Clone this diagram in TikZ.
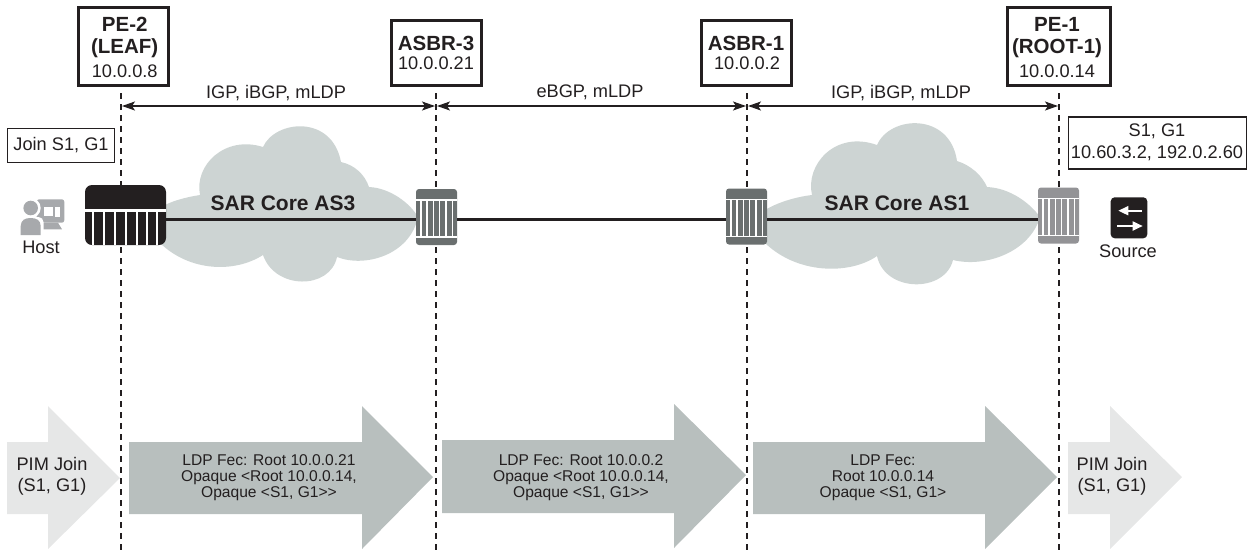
\documentclass[tikz,border=0pt]{standalone}
\usepackage{fontspec}
\setmainfont{Liberation Sans}
\usetikzlibrary{arrows.meta,calc}
\definecolor{ink}{HTML}{231F20}
\definecolor{cloudc}{HTML}{CDD4D3}
\definecolor{ldpc}{HTML}{B8BFBE}
\definecolor{pimc}{HTML}{E6E7E7}
\definecolor{rtrdark}{HTML}{6A6F6F}
\definecolor{rtrlight}{HTML}{939396}
\definecolor{hostc}{HTML}{A7A9AC}
\tikzset{
  lbl/.style={text=ink,font=\fontsize{18.2}{21.5}\selectfont,align=center,inner sep=0pt},
  boldlbl/.style={text=ink,font=\fontsize{20.5}{21.5}\selectfont\bfseries,align=center,inner sep=0pt},
  cloudlbl/.style={text=ink,font=\fontsize{21}{22}\selectfont\bfseries,align=center,inner sep=0pt},
  smalllbl/.style={text=ink,font=\fontsize{15.6}{15.9}\selectfont,align=center,inner sep=0pt},
  headbox/.style={draw=ink,line width=3pt,fill=white,inner sep=0pt},
  notebox/.style={draw=ink,line width=1.6pt,fill=white,inner sep=0pt},
  vline/.style={draw=ink,line width=2.2pt,dash pattern=on 6pt off 5pt},
  span/.style={draw=ink,line width=1.5pt,{Stealth[length=13pt,width=9pt,inset=3pt]}-{Stealth[length=13pt,width=9pt,inset=3pt]}},
  link/.style={draw=ink,line width=3pt},
  rtrbody/.style={rounded corners=3pt,inner sep=0pt,minimum width=41pt,minimum height=56pt},
  slat/.style={draw=white,line width=1.4pt},
}
\newcommand{\smallrtr}[4]{%
  \node[rtrbody,fill=#4] (#1) at (#2,#3) {};
  \draw[slat] ($(#1.center)+(-20.5,-17)$) -- ($(#1.center)+(20.5,-17)$);
  \draw[slat] ($(#1.center)+(-20.5,20)$) -- ($(#1.center)+(20.5,20)$);
  \foreach \dx in {-15.7,-9.4,-3.1,3.1,9.4,15.7}
    \draw[slat] ($(#1.center)+(\dx,-17)$) -- ($(#1.center)+(\dx,20)$);
}
\newcommand{\bigarrow}[9]{%
  \fill[#1] (#2,#5) -- (#3,#5) -- (#3,#7) -- (#4,#9) -- (#3,#8) -- (#3,#6) -- (#2,#6) -- cycle;
}
\begin{document}
\begin{tikzpicture}[x=1pt,y=-1pt]
\useasboundingbox (0,0) rectangle (1253,550);

% clouds
\fill[cloudc] (160,208) .. controls (170,201) and (187,197) .. (200,195)
  .. controls (194,165) and (225,135) .. (263,147)
  .. controls (275,120) and (332,114) .. (341,162)
  .. controls (355,165) and (365,175) .. (369,187)
  .. controls (390,188) and (410,203) .. (418,217)
  .. controls (410,255) and (365,268) .. (337,257)
  .. controls (330,290) and (275,290) .. (263,255)
  .. controls (235,273) and (190,272) .. (160,243) -- cycle;
\fill[cloudc] (762,212) .. controls (775,203) and (795,197) .. (812,195)
  .. controls (805,165) and (835,130) .. (877,145)
  .. controls (890,115) and (950,112) .. (957,161)
  .. controls (970,165) and (982,175) .. (987,187)
  .. controls (1010,188) and (1030,203) .. (1040,217)
  .. controls (1030,252) and (985,268) .. (953,260)
  .. controls (945,293) and (885,293) .. (877,256)
  .. controls (850,275) and (795,275) .. (762,240) -- cycle;

% header boxes
\node[headbox,minimum width=90pt,minimum height=78pt] (pe2) at (123.5,46.5) {};
\node[headbox,minimum width=90pt,minimum height=65pt] (as3) at (436,52.5) {};
\node[headbox,minimum width=90pt,minimum height=65pt] (as1) at (746.5,52.5) {};
\node[headbox,minimum width=103pt,minimum height=78pt] (pe1) at (1059,46.5) {};

\node[boldlbl] (pe2a) at (124.7,37.5) {PE-2\\(LEAF)};
\node[lbl] (pe2b) at (124.7,71) {10.0.0.8};
\node[boldlbl] (as3a) at (436,43) {ASBR-3};
\node[lbl] (as3b) at (436,63) {10.0.0.21};
\node[boldlbl] (as1a) at (746,43) {ASBR-1};
\node[lbl] (as1b) at (747,63) {10.0.0.2};
\node[boldlbl] (pe1a) at (1057,37.5) {PE-1\\(ROOT-1)};
\node[lbl] (pe1b) at (1057,71) {10.0.0.14};

% vertical dashed lines
\coordinate (d1t) at (121,93);  \coordinate (d1b) at (121,550);
\coordinate (d2t) at (436,93);  \coordinate (d2b) at (436,550);
\coordinate (d3t) at (747,93);  \coordinate (d3b) at (747,550);
\coordinate (d4t) at (1059,93); \coordinate (d4b) at (1059,550);
\draw[vline] (d1t) -- (d1b);
\draw[vline] (d2t) -- (d2b);
\draw[vline] (d3t) -- (d3b);
\draw[vline] (d4t) -- (d4b);

% spans
\coordinate (s1l) at (122,106);  \coordinate (s1r) at (435,106);
\coordinate (s2l) at (437,106);  \coordinate (s2r) at (746,106);
\coordinate (s3l) at (748,106);  \coordinate (s3r) at (1058,106);
\draw[span] (s1l) -- (s1r);
\draw[span] (s2l) -- (s2r);
\draw[span] (s3l) -- (s3r);
\node[lbl] (t1) at (276,93) {IGP, iBGP, mLDP};
\node[lbl] (t2) at (590,92) {eBGP, mLDP};
\node[lbl] (t3) at (901,93) {IGP, iBGP, mLDP};

% note boxes
\node[notebox,minimum width=107pt,minimum height=34pt] (joinbox) at (61,145.5) {};
\node[lbl] (jointxt) at (61,145.5) {Join S1, G1};
\node[notebox,minimum width=178pt,minimum height=52pt] (sgbox) at (1157.5,143) {};
\node[lbl] (sgtxt) at (1157,142.5) {S1, G1\\10.60.3.2, 192.0.2.60};

% routers
\coordinate (lk) at (0,219);
\node[inner sep=0pt,minimum width=81pt,minimum height=60pt,rounded corners=7pt,fill=ink] (rleaf) at (125.5,215) {};
\draw[slat,line width=2.4pt] ($(rleaf.center)+(-40.5,-4.7)$) -- ($(rleaf.center)+(40.5,-4.7)$);
\foreach \dx in {-32.5,-21.5,-10.5,0.5,11.5,21.5,31.5}
  \draw[slat,line width=2pt] ($(rleaf.center)+(\dx,-4.7)$) -- ($(rleaf.center)+(\dx,30)$);
\smallrtr{r3}{436.5}{217}{rtrdark}
\smallrtr{r1}{746.5}{216.5}{rtrdark}
\smallrtr{r0}{1058.5}{215.5}{rtrlight}

% links
\draw[link] (rleaf.east |- lk) -- (r3.west |- lk);
\draw[link] (r3.east |- lk) -- (r1.west |- lk);
\draw[link] (r1.east |- lk) -- (r0.west |- lk);

\node[cloudlbl] (c3) at (283,203) {SAR Core AS3};
\node[cloudlbl] (c1) at (897,203) {SAR Core AS1};

% host icon
\fill[hostc,rounded corners=2.5pt] (36.7,199.3) rectangle (64.3,222.7);
\fill[white] (44.3,206.7) rectangle (53.3,216);
\fill[white] (55,206.7) rectangle (60,216.7);
\fill[hostc] (42.7,222.7) -- (58,222.7) -- (62,229.3) -- (42,229.3) -- cycle;
\fill[white] (30.7,208) circle (10);
\fill[white,rounded corners=5pt] (17,217) rectangle (43.5,240);
\fill[hostc] (30.7,208) circle (7.3);
\fill[hostc] (20.7,235) -- (20.7,226) .. controls (21,220) and (25,218) .. (30.7,218) .. controls (36,218) and (40.7,220) .. (40.7,226) -- (40.7,235) -- cycle;
\node[lbl] (host) at (41,247) {Host};

% source icon
\fill[ink,rounded corners=4pt] (1110.7,197.3) rectangle (1147.3,238.3);
\draw[white,line width=1.8pt,-{Triangle[length=10pt,width=9pt]}] (1141.7,210.7) -- (1118.3,210.7);
\draw[white,line width=1.8pt,-{Triangle[length=10pt,width=9pt]}] (1117.3,226) -- (1142.7,226);
\node[lbl] (source) at (1128,251) {Source};

% bottom arrows
\bigarrow{pimc}{7}{48}{120}{442}{514}{406}{549}{478}
\bigarrow{ldpc}{129}{362}{433}{442}{514}{406}{549}{477}
\bigarrow{ldpc}{442}{674}{746}{440}{513}{404}{548}{475}
\bigarrow{ldpc}{753}{985}{1057}{442}{514}{406}{549}{477}
\bigarrow{pimc}{1068}{1110}{1182}{442}{514}{406}{549}{477}

\node[lbl] (p1) at (52,476.5) {PIM Join\\(S1, G1)};
\node[lbl] (p2) at (1112,476.5) {PIM Join\\(S1, G1)};
\node[smalllbl] (f1) at (269,477.5) {LDP Fec: Root 10.0.0.21\\Opaque <Root 10.0.0.14,\\Opaque <S1, G1>{}>};
\node[smalllbl] (f2) at (581,477.5) {LDP Fec: Root 10.0.0.2\\Opaque <Root 10.0.0.14,\\Opaque <S1, G1>{}>};
\node[smalllbl] (f3) at (883,477.5) {LDP Fec:\\Root 10.0.0.14\\Opaque <S1, G1>};
\end{tikzpicture}
\end{document}
